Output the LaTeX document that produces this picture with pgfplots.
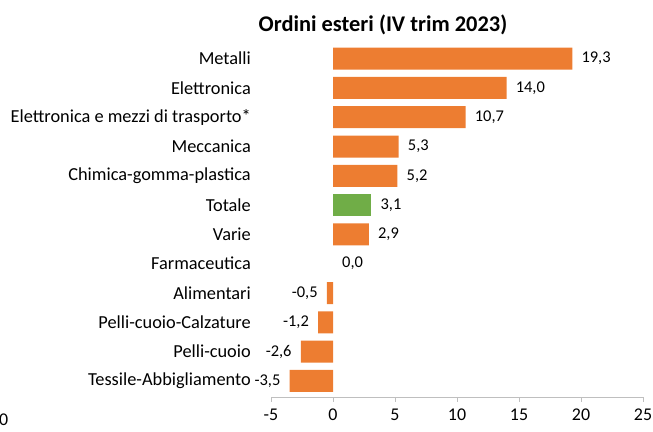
\documentclass[border=0pt]{standalone}
\usepackage{pgfplots}
\pgfplotsset{compat=1.18}
\usepackage{fontspec}
\setmainfont{Carlito}
\definecolor{barorange}{HTML}{ED7D31}
\definecolor{bargreen}{HTML}{70AD47}
\definecolor{axgray}{HTML}{BFBFBF}
\begin{document}
\begin{tikzpicture}
\useasboundingbox (0,0) rectangle (653bp,432bp);
\begin{axis}[
  at={(271bp,35bp)}, anchor=south west,
  scale only axis, width=372bp, height=353bp,
  xmin=-5, xmax=25, ymin=-0.55, ymax=11.5,
  xtick={-5,0,5,10,15,20,25},
  ytick={0,1,2,3,4,5,6,7,8,9,10,11},
  yticklabels={Tessile-Abbigliamento, Pelli-cuoio, Pelli-cuoio-Calzature, Alimentari, Farmaceutica, Varie, Totale, Chimica-gomma-plastica, Meccanica, Elettronica e mezzi di trasporto*, Elettronica, Metalli},
  axis lines*=left,
  y axis line style={draw=none},
  ytick style={draw=none},
  x axis line style={draw=axgray, line width=0.8bp},
  xtick style={draw=axgray, line width=0.8bp},
  tick align=outside, major tick length=5bp,
  xticklabel style={font=\fontsize{18}{18}\selectfont, inner sep=0pt, yshift=-7bp},
  yticklabel style={font=\fontsize{18.4}{18}\selectfont, inner sep=0pt, xshift=-15bp},
  /pgf/number format/assume math mode=true,
  xbar, bar width=22bp, bar shift=0pt,
  point meta=x,
  nodes near coords={\pgfmathprintnumber[fixed,fixed zerofill,precision=1,use comma]{\pgfplotspointmeta}},
  nodes near coords align=horizontal,
  every node near coord/.append style={font=\fontsize{16.5}{16.5}\selectfont, inner xsep=9bp, inner ysep=0pt, text=black},
  clip=false,
]
\addplot[fill=barorange, draw=none] coordinates {
  (19.3,11) (14.0,10) (10.7,9) (5.3,8) (5.2,7) (2.9,5)
  (-0.5,3) (-1.2,2) (-2.6,1) (-3.5,0)
};
\addplot[fill=bargreen, draw=none] coordinates {(3.1,6)};
\addplot[fill=none, draw=none] coordinates {(0.0,4)};
\end{axis}
\node[font=\bfseries\fontsize{22.5}{22.5}\selectfont] at (383bp,407bp) {Ordini esteri (IV trim 2023)};
\node[anchor=west, inner sep=0pt, font=\fontsize{18}{18}\selectfont] at (-1bp,12bp) {0};
\end{tikzpicture}
\end{document}
